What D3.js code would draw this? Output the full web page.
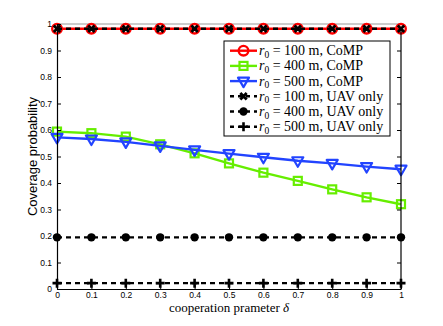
<!DOCTYPE html>
<html>
<head>
<meta charset="utf-8">
<script src="https://cdn.jsdelivr.net/npm/d3@7"></script>
<style>
  body { margin: 0; background: #fff; }
  svg { display: block; }
</style>
</head>
<body>
<svg id="chart"></svg>
<script>
// data
const deltas = [0, 0.1, 0.2, 0.3, 0.4, 0.5, 0.6, 0.7, 0.8, 0.9, 1];
const comp100 = [0.982, 0.982, 0.982, 0.982, 0.982, 0.982, 0.982, 0.982, 0.982, 0.982, 0.982];
const comp400 = [0.594, 0.588, 0.575, 0.546, 0.512, 0.474, 0.439, 0.408, 0.376, 0.346, 0.320];
const comp500 = [0.572, 0.566, 0.555, 0.540, 0.525, 0.511, 0.497, 0.484, 0.474, 0.462, 0.452];
const uav100 = [0.982, 0.982, 0.982, 0.982, 0.982, 0.982, 0.982, 0.982, 0.982, 0.982, 0.982];
const uav400 = [0.195, 0.195, 0.195, 0.195, 0.195, 0.195, 0.195, 0.195, 0.195, 0.195, 0.195];
const uav500 = [0.022, 0.022, 0.022, 0.022, 0.022, 0.022, 0.022, 0.022, 0.022, 0.022, 0.022];
const xTicks = [0, 0.1, 0.2, 0.3, 0.4, 0.5, 0.6, 0.7, 0.8, 0.9, 1];
const yTicks = [0, 0.1, 0.2, 0.3, 0.4, 0.5, 0.6, 0.7, 0.8, 0.9, 1];
const legendLabels = ['100 m, CoMP', '400 m, CoMP', '500 m, CoMP', '100 m, UAV only', '400 m, UAV only', '500 m, UAV only'];

const series = [
    { values: comp100, color: '#ff0000', dash: null, marker: 'circle' },
    { values: comp400, color: '#66ee00', dash: null, marker: 'square' },
    { values: comp500, color: '#2244ff', dash: null, marker: 'triangle' },
    { values: uav400, color: '#000000', dash: '5,4', marker: 'dot' },
    { values: uav500, color: '#000000', dash: '5,4', marker: 'plus' },
    { values: uav100, color: '#000000', dash: '5,4', marker: 'cross' }
];
// legend order differs from draw order
const legendSeries = [series[0], series[1], series[2], series[5], series[3], series[4]];

const W = 443, H = 326;
const margin = { top: 24, right: 42, bottom: 37, left: 57 };
const width = W - margin.left - margin.right;
const height = H - margin.top - margin.bottom;

const svg = d3.select('#chart').attr('width', W).attr('height', H);
const g = svg.append('g').attr('transform', `translate(${margin.left}, ${margin.top})`);

const xScale = d3.scaleLinear().domain([0, 1]).range([0, width]);
const yScale = d3.scaleLinear().domain([0, 1]).range([height, 0]);

function drawMarker(sel, type, color) {
    if (type === 'circle') {
        sel.append('circle').attr('r', 4.8).attr('fill', 'none')
            .attr('stroke', color).attr('stroke-width', 2.4);
    } else if (type === 'square') {
        sel.append('rect').attr('x', -4).attr('y', -4).attr('width', 8).attr('height', 8)
            .attr('fill', 'none').attr('stroke', color).attr('stroke-width', 2.2);
    } else if (type === 'triangle') {
        sel.append('path').attr('d', 'M-5.5,-3.5L5.5,-3.5L0,6Z').attr('fill', 'none')
            .attr('stroke', color).attr('stroke-width', 2.2).attr('stroke-linejoin', 'round');
    } else if (type === 'dot') {
        sel.append('circle').attr('r', 4.2).attr('fill', color);
    } else if (type === 'plus') {
        sel.append('path').attr('d', 'M-4.5,0L4.5,0M0,-4.5L0,4.5')
            .attr('stroke', color).attr('stroke-width', 2.6);
    } else if (type === 'cross') {
        sel.append('path').attr('d', 'M-3.2,-3.2L3.2,3.2M-3.2,3.2L3.2,-3.2')
            .attr('stroke', color).attr('stroke-width', 2.8);
    }
}

// axes box
g.append('line').attr('x1', 0).attr('x2', width).attr('y1', 0).attr('y2', 0)
    .attr('stroke', '#999').attr('stroke-width', 1);

const line = d3.line().x((d, i) => xScale(deltas[i])).y(d => yScale(d));

series.forEach(s => {
    g.append('path').datum(s.values)
        .attr('d', line)
        .attr('fill', 'none')
        .attr('stroke', s.color)
        .attr('stroke-width', 2.4)
        .attr('stroke-dasharray', s.dash);
    g.append('g').selectAll('g')
        .data(s.values)
        .enter()
        .append('g')
        .attr('transform', (d, i) => `translate(${xScale(deltas[i])}, ${yScale(d)})`)
        .each(function() { drawMarker(d3.select(this), s.marker, s.color); });
});

// left axis
const yAxis = g.append('g')
    .call(d3.axisLeft(yScale).tickValues(yTicks).tickSizeInner(-4).tickSizeOuter(0).tickPadding(5).tickFormat(d3.format('')));
yAxis.selectAll('text').attr('font-family', 'Liberation Sans, Arial, sans-serif').attr('font-size', 8.5).attr('fill', '#000');
yAxis.select('.domain').attr('stroke-width', 1.2);
// right axis
const yAxisR = g.append('g').attr('transform', `translate(${width}, 0)`)
    .call(d3.axisRight(yScale).tickValues(yTicks.slice(0, 10)).tickSizeInner(-4).tickSizeOuter(0).tickFormat(''));
yAxisR.select('.domain').attr('d', `M0,${yScale(0.985)}V${height}`).attr('stroke-width', 1.2);
// bottom axis
const xAxis = g.append('g').attr('transform', `translate(0, ${height})`)
    .call(d3.axisBottom(xScale).tickValues(xTicks).tickSizeInner(-4).tickSizeOuter(0).tickPadding(3).tickFormat(d3.format('')));
xAxis.selectAll('text').attr('font-family', 'Liberation Sans, Arial, sans-serif').attr('font-size', 8.5).attr('fill', '#000');
xAxis.select('.domain').attr('stroke-width', 1.2);

// axis labels
svg.append('text')
    .attr('transform', `translate(37, ${margin.top + height / 2}) rotate(-90)`)
    .attr('text-anchor', 'middle')
    .attr('font-family', 'Liberation Sans, Arial, sans-serif')
    .attr('font-size', 13)
    .text('Coverage probability');
const xl = svg.append('text')
    .attr('x', margin.left + width / 2)
    .attr('y', 312)
    .attr('text-anchor', 'middle')
    .attr('font-family', 'Liberation Serif, serif')
    .attr('font-size', 13);
xl.append('tspan').text('cooperation prameter ');
xl.append('tspan').attr('font-style', 'italic').text('δ');

// legend
const legend = svg.append('g').attr('transform', 'translate(224, 41)');
legend.append('rect')
    .attr('width', 166).attr('height', 95)
    .attr('fill', '#fff').attr('stroke', '#000').attr('stroke-width', 1);
const items = legend.selectAll('g.item')
    .data(legendSeries)
    .enter()
    .append('g')
    .attr('class', 'item')
    .attr('transform', (d, i) => `translate(0, ${9.7 + i * 15.2})`);
items.append('line')
    .attr('x1', 6).attr('x2', 33).attr('y1', 0).attr('y2', 0)
    .attr('stroke', d => d.color).attr('stroke-width', 2.4)
    .attr('stroke-dasharray', d => d.dash ? '4,4' : null);
items.append('g').attr('transform', 'translate(19.5, 0)')
    .each(function(d) { drawMarker(d3.select(this), d.marker, d.color); });
const lt = items.append('text')
    .attr('x', 35).attr('y', 4.5)
    .attr('font-family', 'Liberation Serif, serif')
    .attr('font-size', 14);
lt.append('tspan').attr('font-style', 'italic').text('r');
lt.append('tspan').attr('font-size', 9.5).attr('dy', 2.5).text('0');
lt.append('tspan').attr('dy', -2.5).text(d => ' = ' + legendLabels[legendSeries.indexOf(d)]);
</script>
</body>
</html>
